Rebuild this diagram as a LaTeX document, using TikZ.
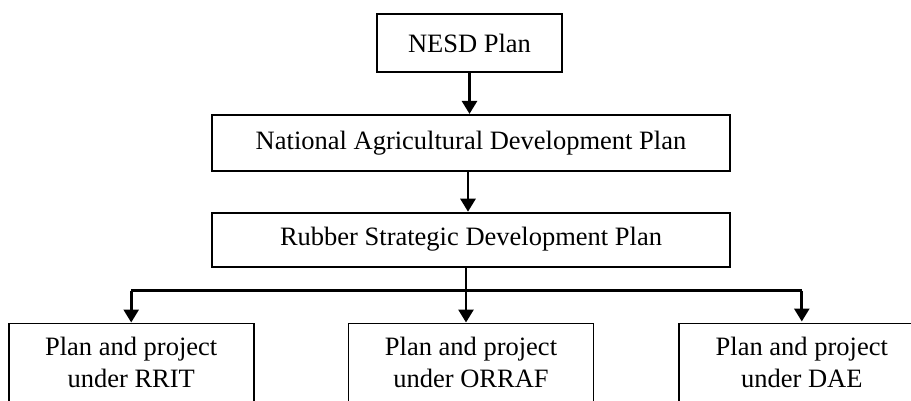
\documentclass[tikz,border=0pt]{standalone}
\usepackage{fontspec}
\setmainfont{Liberation Serif}
\usetikzlibrary{arrows.meta, positioning}

\begin{document}
\begin{tikzpicture}[x=1pt, y=1pt, >={Triangle[width=15pt, length=13pt]},
  every node/.style={draw, rectangle, line width=1.8pt, inner sep=0pt, align=center,
    font=\fontsize{26.5}{32}\selectfont},
  planbox/.style={minimum width=518pt, minimum height=56pt},
  subbox/.style={minimum width=245pt, minimum height=78pt},
  link/.style={->, line width=2.8pt}]

  \path[use as bounding box, clip] (0,0) rectangle (911,-400);

  % Nodes
  \node[minimum width=185pt, minimum height=58pt] (nesd) at (469.5,-43) {NESD Plan};
  \node[planbox] (nadp) [below=41pt of nesd, xshift=1.5pt] {National Agricultural Development Plan};
  \node[planbox, minimum height=54pt] (rsdp) [below=40pt of nadp] {Rubber Strategic Development Plan};
  \node[subbox] (orraf) [below=55pt of rsdp] {Plan and project\\under ORRAF};
  \node[subbox] (rrit) [left=93pt of orraf] {Plan and project\\under RRIT};
  \node[subbox] (dae) [right=84pt of orraf] {Plan and project\\under DAE};

  % Split point
  \coordinate (split) at ([xshift=-5pt, yshift=-23pt]rsdp.south);

  % Edges
  \draw[link] (nesd) -- (nadp.north -| nesd);
  \draw[link] ([xshift=-3pt]nadp.south) -- ([xshift=-3pt]rsdp.north);
  \draw[link] ([xshift=-5pt]rsdp.south) -- (orraf.north -| split);
  \draw[line width=2.2pt] (split -| rrit) -- (split -| dae);
  \draw[link] (split -| rrit) -- (rrit);
  \draw[link] (split -| dae) -- ([yshift=1pt]dae.north);

\end{tikzpicture}
\end{document}
